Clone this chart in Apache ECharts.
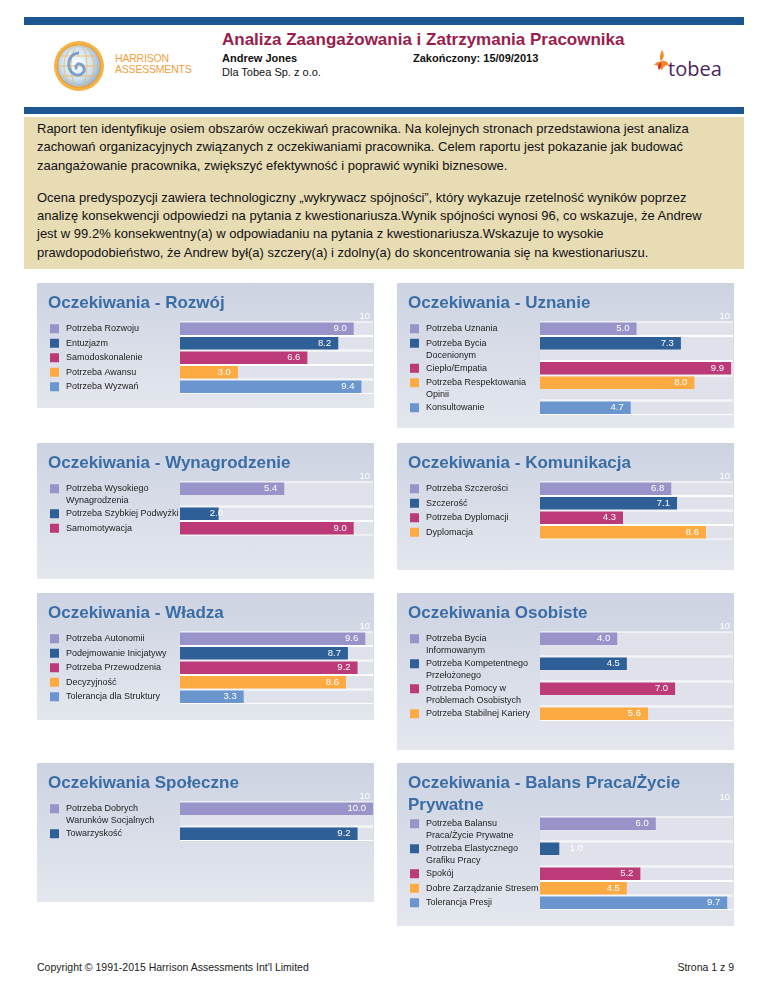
<!DOCTYPE html>
<html>
<head>
<meta charset="utf-8">
<script src="https://cdn.jsdelivr.net/npm/echarts@6/dist/echarts.min.js"></script>
<style>
  html, body { margin: 0; padding: 0; }
  body { width: 768px; height: 994px; position: relative; overflow: hidden; background: #ffffff;
         font-family: 'Liberation Sans', Arial, sans-serif; color: #111; }
  .abs { position: absolute; white-space: nowrap; }
  .bluebar { position: absolute; left: 24px; width: 720px; background: #1c5794; }
  .panel { position: absolute; width: 337px; background: linear-gradient(#cdd3e2, #e4e7ee); }
  .desc { position: absolute; left: 24px; top: 117px; width: 720px; height: 152px; background: #e8dcb5;
          box-sizing: border-box; padding: 3px 13px 0 13px; font-size: 13px; line-height: 18.3px; color: #111; }
  .desc p { margin: 0 0 14px 0; white-space: nowrap; }
</style>
</head>
<body>

<div class="bluebar" style="top:17px;height:8px;"></div>

<!-- Harrison logo -->
<svg class="abs" style="left:52px;top:39px;" width="54" height="54" viewBox="0 0 54 54">
  <defs>
    <radialGradient id="g1" cx="0.45" cy="0.45" r="0.6">
      <stop offset="0" stop-color="#ffffff"/>
      <stop offset="0.6" stop-color="#cfe2f2"/>
      <stop offset="1" stop-color="#7fa9d6"/>
    </radialGradient>
  </defs>
  <circle cx="27" cy="27" r="25" fill="#f6b245"/>
  <circle cx="27" cy="27" r="21.5" fill="url(#g1)" stroke="#e99a2a" stroke-width="1"/>
  <g stroke="#f3b75c" stroke-width="0.9" fill="none" opacity="0.9">
    <ellipse cx="27" cy="27" rx="8" ry="21"/>
    <ellipse cx="27" cy="27" rx="15" ry="21"/>
    <line x1="6" y1="27" x2="48" y2="27"/>
    <line x1="9" y1="17" x2="45" y2="17"/>
    <line x1="9" y1="37" x2="45" y2="37"/>
  </g>
  <path d="M27 14 C16 14 13 30 22 35 C29 39 36 31 30 26 C26 23 22 27 25 30" stroke="#5f8fc6" stroke-width="3" fill="none" opacity="0.8"/>
</svg>
<div class="abs" style="left:115px;top:53px;font-size:10.5px;line-height:11px;color:#f2a03c;letter-spacing:-0.2px;">HARRISON<br>ASSESSMENTS</div>

<div class="abs" style="left:222px;top:29px;font-size:17px;line-height:22px;font-weight:bold;color:#9a1d4c;">Analiza Zaangażowania i Zatrzymania Pracownika</div>
<div class="abs" style="left:222px;top:51px;font-size:11px;line-height:14px;font-weight:bold;color:#111;">Andrew Jones</div>
<div class="abs" style="left:222px;top:65px;font-size:11px;line-height:14px;color:#111;">Dla Tobea Sp. z o.o.</div>
<div class="abs" style="left:413px;top:51px;font-size:11px;line-height:14px;font-weight:bold;color:#111;">Zakończony: 15/09/2013</div>

<!-- tobea logo -->
<svg class="abs" style="left:652px;top:49px;" width="20" height="28" viewBox="0 0 20 28">
  <path d="M10 1 C13 6 12 9 9 12 C13 11 16 13 17 16 C13 16 11 18 10 22 C9 18 6 16 2 16 C4 13 7 12 9 13 C7 9 8 5 10 1 Z" fill="#f08a2a"/>
  <path d="M9 13 C6 15 5 18 7 21 C9 19 10 17 9 13 Z" fill="#d9342b"/>
</svg>
<div class="abs" style="left:668px;top:56px;font-family:'Open Sans','Liberation Sans',sans-serif;font-size:20px;line-height:26px;color:#4a2660;">tobea</div>

<div class="bluebar" style="top:107px;height:7px;"></div>

<div class="desc">
  <p>Raport ten identyfikuje osiem obszarów oczekiwań pracownika. Na kolejnych stronach przedstawiona jest analiza<br>zachowań organizacyjnych związanych z oczekiwaniami pracownika. Celem raportu jest pokazanie jak budować<br>zaangażowanie pracownika, zwiększyć efektywność i poprawić wyniki biznesowe.</p>
  <p>Ocena predyspozycji zawiera technologiczny „wykrywacz spójności”, który wykazuje rzetelność wyników poprzez<br>analizę konsekwencji odpowiedzi na pytania z kwestionariusza.Wynik spójności wynosi 96, co wskazuje, że Andrew<br>jest w 99.2% konsekwentny(a) w odpowiadaniu na pytania z kwestionariusza.Wskazuje to wysokie<br>prawdopodobieństwo, że Andrew był(a) szczery(a) i zdolny(a) do skoncentrowania się na kwestionariuszu.</p>
</div>

<div id="p1" class="panel" style="left:37px;top:283px;height:125px;"></div>
<div id="p2" class="panel" style="left:397px;top:283px;height:145px;"></div>
<div id="p3" class="panel" style="left:37px;top:443px;height:136px;"></div>
<div id="p4" class="panel" style="left:397px;top:443px;height:127px;"></div>
<div id="p5" class="panel" style="left:37px;top:593px;height:127px;"></div>
<div id="p6" class="panel" style="left:397px;top:593px;height:157px;"></div>
<div id="p7" class="panel" style="left:37px;top:763px;height:139px;"></div>
<div id="p8" class="panel" style="left:397px;top:763px;height:163px;"></div>

<div class="abs" style="left:37px;top:960px;font-size:10.5px;line-height:14px;color:#222;">Copyright © 1991-2015 Harrison Assessments Int'l Limited</div>
<div class="abs" style="right:34px;top:960px;font-size:10.5px;line-height:14px;color:#222;">Strona 1 z 9</div>

<script>
// ---------- DATA ----------
const rozwojTitle = 'Oczekiwania - Rozwój';
const rozwojLabels = ['Potrzeba Rozwoju', 'Entuzjazm', 'Samodoskonalenie', 'Potrzeba Awansu', 'Potrzeba Wyzwań'];
const rozwojValues = [9.0, 8.2, 6.6, 3.0, 9.4];

const uznanieTitle = 'Oczekiwania - Uznanie';
const uznanieLabels = ['Potrzeba Uznania', 'Potrzeba Bycia\nDocenionym', 'Ciepło/Empatia', 'Potrzeba Respektowania\nOpinii', 'Konsultowanie'];
const uznanieValues = [5.0, 7.3, 9.9, 8.0, 4.7];

const wynagrodzenieTitle = 'Oczekiwania - Wynagrodzenie';
const wynagrodzenieLabels = ['Potrzeba Wysokiego\nWynagrodzenia', 'Potrzeba Szybkiej Podwyżki', 'Samomotywacja'];
const wynagrodzenieValues = [5.4, 2.0, 9.0];

const komunikacjaTitle = 'Oczekiwania - Komunikacja';
const komunikacjaLabels = ['Potrzeba Szczerości', 'Szczerość', 'Potrzeba Dyplomacji', 'Dyplomacja'];
const komunikacjaValues = [6.8, 7.1, 4.3, 8.6];

const wladzaTitle = 'Oczekiwania - Władza';
const wladzaLabels = ['Potrzeba Autonomii', 'Podejmowanie Inicjatywy', 'Potrzeba Przewodzenia', 'Decyzyjność', 'Tolerancja dla Struktury'];
const wladzaValues = [9.6, 8.7, 9.2, 8.6, 3.3];

const osobisteTitle = 'Oczekiwania Osobiste';
const osobisteLabels = ['Potrzeba Bycia\nInformowanym', 'Potrzeba Kompetentnego\nPrzełożonego', 'Potrzeba Pomocy w\nProblemach Osobistych', 'Potrzeba Stabilnej Kariery'];
const osobisteValues = [4.0, 4.5, 7.0, 5.6];

const spoleczneTitle = 'Oczekiwania Społeczne';
const spoleczneLabels = ['Potrzeba Dobrych\nWarunków Socjalnych', 'Towarzyskość'];
const spoleczneValues = [10.0, 9.2];

const balansTitle = 'Oczekiwania - Balans Praca/Życie\nPrywatne';
const balansLabels = ['Potrzeba Balansu\nPraca/Życie Prywatne', 'Potrzeba Elastycznego\nGrafiku Pracy', 'Spokój', 'Dobre Zarządzanie Stresem', 'Tolerancja Presji'];
const balansValues = [6.0, 1.0, 5.2, 4.5, 9.7];

const scaleMax = 10;

// ---------- STYLE ----------
const PALETTE = ['#9893c9', '#2f5f97', '#bb3a77', '#fdaa42', '#6b95cf'];
const FONT = "'Liberation Sans', Arial, sans-serif";
const PITCH = 14.5;       // px per single-line row
const WRAP_EXTRA = 10.5;  // extra px per wrapped label line

const panels = [
  { id: 'p1', title: rozwojTitle, labels: rozwojLabels, values: rozwojValues },
  { id: 'p2', title: uznanieTitle, labels: uznanieLabels, values: uznanieValues },
  { id: 'p3', title: wynagrodzenieTitle, labels: wynagrodzenieLabels, values: wynagrodzenieValues },
  { id: 'p4', title: komunikacjaTitle, labels: komunikacjaLabels, values: komunikacjaValues },
  { id: 'p5', title: wladzaTitle, labels: wladzaLabels, values: wladzaValues },
  { id: 'p6', title: osobisteTitle, labels: osobisteLabels, values: osobisteValues },
  { id: 'p7', title: spoleczneTitle, labels: spoleczneLabels, values: spoleczneValues },
  { id: 'p8', title: balansTitle, labels: balansLabels, values: balansValues }
];

function buildOption(p) {
  const units = p.labels.map(l => 1 + (l.split('\n').length - 1) * WRAP_EXTRA / PITCH);
  let acc = 0;
  const starts = units.map(u => { const s = acc; acc += u; return s; });
  const titleLines = p.title.split('\n').length;
  const gridTop = 38.5 + (titleLines - 1) * 15;
  const data = p.values.map((v, i) => [v, starts[i], units[i], i]);

  function renderItem(params, api) {
    const v = api.value(0), s = api.value(1), u = api.value(2), i = api.value(3);
    const a = api.coord([0, s]);
    const b = api.coord([scaleMax, s]);
    const e = api.coord([v, s]);
    const c = api.coord([0, s + u]);
    const color = PALETTE[i % PALETTE.length];
    const barH = 12.5;
    const cy = a[1] + 1 + barH / 2;
    const labelRight = Math.max(e[0] - 7, a[0] + 43);
    const children = [
      { type: 'rect', shape: { x: a[0], y: a[1], width: b[0] - a[0], height: c[1] - a[1] }, style: { fill: '#dfe2ea' } },
      { type: 'line', shape: { x1: a[0], y1: a[1] + 0.5, x2: b[0], y2: a[1] + 0.5 }, style: { stroke: '#ffffff', lineWidth: 1 } },
      { type: 'line', shape: { x1: a[0], y1: c[1] - 0.5, x2: b[0], y2: c[1] - 0.5 }, style: { stroke: '#ffffff', lineWidth: 1 } },
      { type: 'rect', shape: { x: a[0], y: a[1] + 1, width: e[0] - a[0], height: barH }, style: { fill: color } },
      { type: 'text', style: { text: v.toFixed(1), x: labelRight, y: cy, align: 'right', verticalAlign: 'middle', fill: '#ffffff', font: '9.5px ' + FONT } },
      { type: 'rect', shape: { x: 13, y: cy - 4.5, width: 9, height: 9 }, style: { fill: color } },
      { type: 'text', style: { text: p.labels[params.dataIndex], x: 29, y: cy - 6, align: 'left', verticalAlign: 'top', lineHeight: 12, fill: '#222222', font: '9px ' + FONT } }
    ];
    return { type: 'group', children: children };
  }

  return {
    animation: false,
    textStyle: { fontFamily: FONT },
    title: {
      text: p.title, left: 11, top: 9, padding: 0,
      textStyle: { fontSize: 17, fontWeight: 'bold', color: '#3a6da6', lineHeight: 22, fontFamily: FONT }
    },
    grid: { left: 143, right: 1, top: gridTop, height: acc * PITCH },
    xAxis: {
      type: 'value', min: 0, max: scaleMax, interval: scaleMax, position: 'top',
      axisLine: { show: false }, axisTick: { show: false }, splitLine: { show: false },
      axisLabel: { showMinLabel: false, color: '#ffffff', fontSize: 9.5, align: 'right', padding: [0, 3, 0, 0],
                   margin: Math.max(0, gridTop - 34 - 5) }
    },
    yAxis: { type: 'value', min: 0, max: acc, inverse: true, show: false },
    series: [{ type: 'custom', renderItem: renderItem, data: data, clip: false }]
  };
}

panels.forEach(p => {
  const chart = echarts.init(document.getElementById(p.id), null, { renderer: 'canvas' });
  chart.setOption(buildOption(p));
});
</script>
</body>
</html>
